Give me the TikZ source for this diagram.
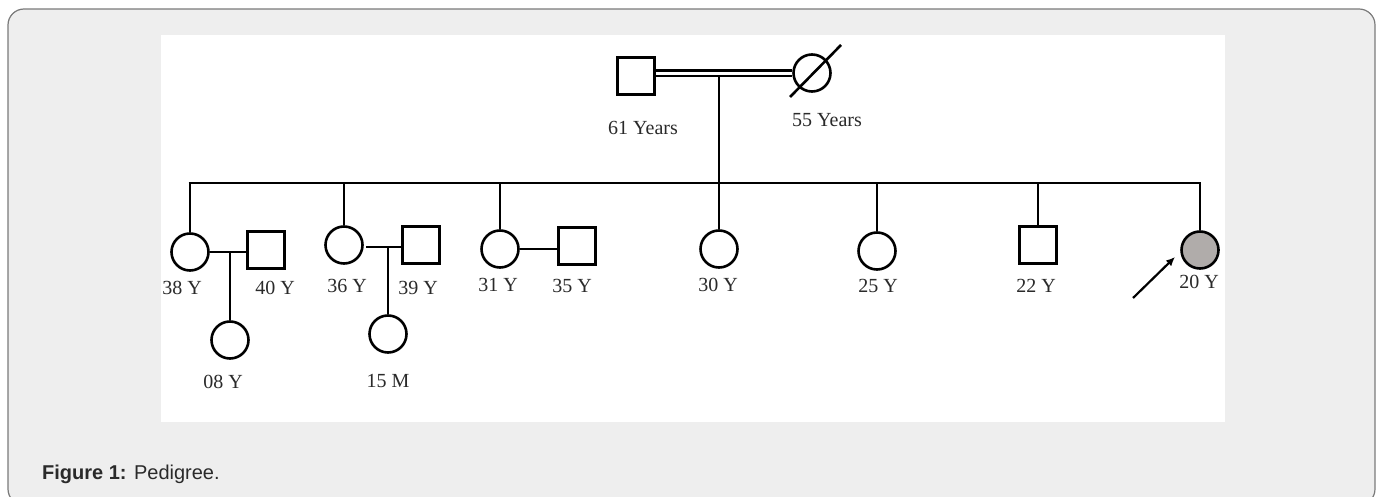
\documentclass[tikz,border=0pt]{standalone}
\usepackage{fontspec}
\setmainfont{Liberation Serif}
\newfontfamily\capfont{Liberation Sans}
\usetikzlibrary{arrows.meta}
\definecolor{framegray}{HTML}{EEEEEE}
\definecolor{framedge}{HTML}{7A7A7A}
\definecolor{affected}{HTML}{B0ACAA}
\definecolor{txt}{HTML}{2A2A2A}
\tikzset{
  ln/.style={line width=2.6pt, line cap=butt},
  fem/.style={circle, draw, line width=2.6pt, minimum size=37pt, inner sep=0pt},
  mal/.style={rectangle, draw, line width=2.6pt, minimum size=37pt, inner sep=0pt},
  lab/.style={font=\fontsize{20}{22}\selectfont, text=txt, inner sep=0pt}
}
\begin{document}
\begin{tikzpicture}[x=1pt,y=-1pt]
\useasboundingbox (0,0) rectangle (1380,497);
% frame
\begin{scope}
\clip (0,0) rectangle (1380,497);
\draw[framedge, fill=framegray, line width=1.2pt, rounded corners=16pt] (8,9) rectangle (1375,505);
\end{scope}
\fill[white] (161,35) rectangle (1225,422);
% parents
\node[mal] (f) at (636,76) {};
\node[fem] (m) at (812,73) {};
\draw[ln] (790,97) -- (841,45);
\draw[line width=2.2pt] (f.east |- 0,70.5) -- (m.west |- 0,70.5);
\draw[line width=2.2pt] (f.east |- 0,76) -- (m.west |- 0,76);
\node[lab] (lf) at (643,128) {61 Years};
\node[lab] (lm) at (827,120) {55 Years};
\coordinate (cm) at (719,76);
% sibship
\coordinate (sl) at (190,183);
\coordinate (sr) at (1200,183);
\draw[ln] ([xshift=-1.3pt]sl) -- ([xshift=1.3pt]sr);
% children
\node[fem] (c1) at (190,252) {};
\node[fem] (c2) at (344,245) {};
\node[fem] (c3) at (500,249) {};
\node[fem] (c4) at (719,249) {};
\node[fem] (c5) at (877,251) {};
\node[mal] (c6) at (1038,245) {};
\node[fem, fill=affected] (c7) at (1200,250) {};
\draw[ln] (sl) -- (c1.north);
\draw[ln] (c2.north |- sl) -- (c2.north);
\draw[ln] (c3.north |- sl) -- (c3.north);
\draw[ln] (cm) -- (c4.north);
\draw[ln] (c5.north |- sl) -- (c5.north);
\draw[ln] (c6.north |- sl) -- (c6.north);
\draw[ln] (sr) -- (c7.north);
% spouses
\node[mal] (s1) at (266,250) {};
\node[mal] (s2) at (421,245) {};
\node[mal] (s3) at (577,246) {};
\coordinate (m1) at (230,252);
\coordinate (m2) at (388,247);
\draw[ln] (c1.east |- m1) -- (s1.west |- m1);
\draw[ln] (366,247) -- (s2.west |- m2);
\draw[ln] (c3.east) -- (s3.west |- c3.east);
% grandchildren
\node[fem] (g1) at (230,340) {};
\node[fem] (g2) at (388,334) {};
\draw[ln] (m1) -- (g1.north);
\draw[ln] (m2) -- (g2.north);
% labels
\node[lab] at (182,288) {38 Y};
\node[lab] at (275,288) {40 Y};
\node[lab] at (223,382) {08 Y};
\node[lab] at (347,286) {36 Y};
\node[lab] at (418,288) {39 Y};
\node[lab] at (388,381) {15 M};
\node[lab] at (498,285) {31 Y};
\node[lab] at (572,286) {35 Y};
\node[lab] at (718,285) {30 Y};
\node[lab] at (878,286) {25 Y};
\node[lab] at (1036,286) {22 Y};
\node[lab] at (1199,282) {20 Y};
% proband arrow
\coordinate (pa) at (1133,298);
\draw[line width=2.2pt, -{Latex[length=9pt,width=8pt]}] (pa) -- (1175,257);
% caption
\node[anchor=west, font=\capfont\fontsize{20}{22}\selectfont, text=txt, inner sep=0pt] (cap) at (42,474) {\textbf{Figure 1:} Pedigree.};
\end{tikzpicture}
\end{document}
